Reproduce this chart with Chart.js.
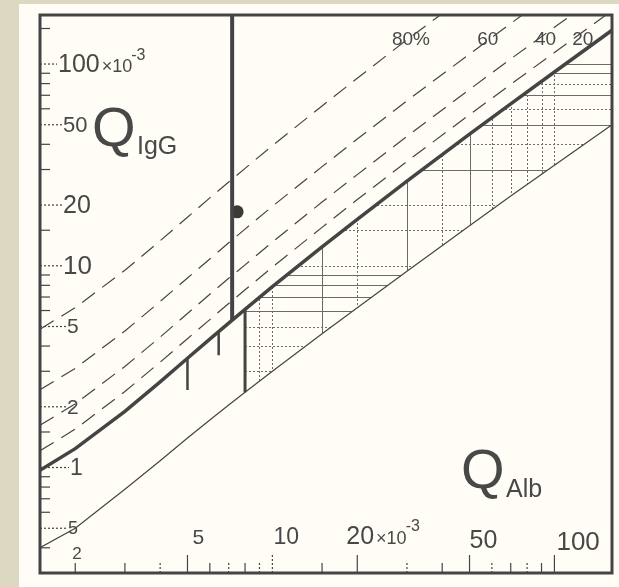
<!DOCTYPE html>
<html lang="de">
<head>
<meta charset="UTF-8">
<title>Reibergramm IgG</title>
<style>
    body { margin: 0; background: #dcd8c1; overflow: hidden; }
    canvas { display: block; }
</style>
</head>
<body>
<canvas id="reiber" width="619" height="587"></canvas>
<script src="https://cdn.jsdelivr.net/npm/chart.js"></script>
<script>
const qAlb = [1.5, 2, 3, 4, 5, 6, 7, 8, 10, 15, 20, 30, 50, 70, 100, 160];
// upper reference limit QLim(IgG) - thick line
const qLimIgG = [0.97, 1.24, 1.90, 2.66, 3.48, 4.33, 5.20, 6.08, 7.88, 12.4, 17.0, 26.3, 44.9, 63.4, 91.3, 147];
// lower limit - thin line
const qLowIgG = [0.40, 0.50, 0.78, 1.08, 1.40, 1.72, 2.04, 2.36, 3.0, 4.6, 6.2, 9.4, 15.8, 22.2, 31.5, 50];
// intrathecal fraction lines (dashed)
const if20 = [1.21, 1.55, 2.38, 3.33, 4.35, 5.41, 6.50, 7.60, 9.85, 15.5, 21.3, 32.9, 56.1, 79.3, 114, 184];
const if40 = [1.62, 2.07, 3.17, 4.43, 5.80, 7.22, 8.67, 10.1, 13.1, 20.7, 28.3, 43.8, 74.8, 106, 152, 245];
const if60 = [2.43, 3.10, 4.75, 6.65, 8.70, 10.8, 13.0, 15.2, 19.7, 31.0, 42.5, 65.8, 112, 159, 228, 368];
const if80 = [4.85, 6.20, 9.50, 13.3, 17.4, 21.7, 26.0, 30.4, 39.4, 62.0, 85.0, 132, 224, 317, 457, 735];
const ifLabels = ['80%', '60', '40', '20'];
const ifLabelQAlb = [31, 58, 93, 126];
const ifLabelQIgG = 124;

// vertical reference line (upper QAlb limit) and small age marks
const refLineQAlb = [7.2, 7.2];
const refLineQIgG = [175, 5.36];
const stubQAlb = [5, 6.45];
const stubTop = [3.48, 4.70];
const stubBottom = [2.42, 3.6];
const ageLineQAlb = [8, 8];
const ageLineQIgG = [6.08, 2.36];

// patient value
const patientQAlb = [7.5];
const patientQIgG = [18.5];

// hatch grid inside the "no intrathecal synthesis" area
const hatchQIgG = [3, 4, 5, 6, 7, 8, 9, 10, 15, 20, 30, 40, 50, 60, 70, 80, 90, 100];
const hatchQAlb = [9, 10, 15, 20, 30, 40, 50, 60, 70, 80, 90, 100];
const hatchSolidY = [6, 7, 8, 9, 30, 50, 70, 90, 100];
const hatchSolidX = [15, 30, 50];

// axes
const yTickValues = [100, 50, 20, 10, 5, 2, 1, 0.5];
const yTickLabels = ['100', '50', '20', '10', '5', '2', '1', '5'];
const yMinorTicks = [0.4, 0.6, 0.7, 0.8, 0.9, 1.5, 3, 4, 6, 7, 8, 9, 15, 30, 40, 60, 70, 80, 90, 150];
const xTickValues = [2, 5, 10, 20, 50, 100];
const xTickLabels = ['2', '5', '10', '20', '50', '100'];
const xMinorTicks = [3, 4, 6, 7, 8, 9, 15, 30, 40, 60, 70, 80, 90];

const ink = '#444444';
const textInk = '#484848';
const FONT = '"Liberation Sans", Arial, sans-serif';

function pts(xs, ys) {
    return xs.map((x, i) => ({ x: x, y: ys[i] }));
}

const stubs = [];
stubQAlb.forEach((q, i) => {
    stubs.push({ x: q, y: stubTop[i] }, { x: q, y: stubBottom[i] }, { x: q, y: null });
});

const paper = {
    id: 'paper',
    beforeDraw(chart) {
        const ctx = chart.ctx;
        ctx.save();
        ctx.fillStyle = '#dcd8c1';
        ctx.fillRect(0, 0, chart.width, chart.height);
        ctx.fillStyle = '#fffdf6';
        ctx.fillRect(19, 4, chart.width - 19, chart.height - 4);
        ctx.restore();
    }
};

const hatch = {
    id: 'hatch',
    beforeDatasetsDraw(chart) {
        const ctx = chart.ctx, xs = chart.scales.x, ys = chart.scales.y, a = chart.chartArea;
        const px = v => xs.getPixelForValue(v), py = v => ys.getPixelForValue(v);
        const up = pts(qAlb, qLimIgG).filter(p => p.x >= 8);
        const lo = pts(qAlb, qLowIgG).filter(p => p.x >= 8).reverse();
        ctx.save();
        ctx.beginPath();
        ctx.rect(a.left, a.top, a.right - a.left, a.bottom - a.top);
        ctx.clip();
        ctx.beginPath();
        up.concat(lo).forEach((p, i) => i ? ctx.lineTo(px(p.x), py(p.y)) : ctx.moveTo(px(p.x), py(p.y)));
        ctx.closePath();
        ctx.clip();
        ctx.strokeStyle = '#6b6b6b';
        ctx.lineWidth = 1;
        hatchQIgG.forEach(v => {
            ctx.setLineDash(hatchSolidY.includes(v) ? [] : [2, 2]);
            ctx.beginPath();
            ctx.moveTo(px(8), Math.round(py(v)) + 0.5);
            ctx.lineTo(a.right, Math.round(py(v)) + 0.5);
            ctx.stroke();
        });
        hatchQAlb.forEach(v => {
            ctx.setLineDash(hatchSolidX.includes(v) ? [] : [2, 2]);
            ctx.beginPath();
            ctx.moveTo(Math.round(px(v)) + 0.5, a.bottom);
            ctx.lineTo(Math.round(px(v)) + 0.5, a.top);
            ctx.stroke();
        });
        ctx.restore();
    }
};

const frame = {
    id: 'frame',
    afterDatasetsDraw(chart) {
        const ctx = chart.ctx, xs = chart.scales.x, ys = chart.scales.y, a = chart.chartArea;
        const px = v => xs.getPixelForValue(v), py = v => ys.getPixelForValue(v);
        ctx.save();
        ctx.strokeStyle = ink;
        ctx.lineWidth = 3;
        ctx.strokeRect(a.left, a.top, a.right - a.left, a.bottom - a.top);

        // left axis
        ctx.lineWidth = 1.2;
        yMinorTicks.forEach(v => {
            ctx.beginPath();
            ctx.moveTo(a.left, py(v));
            ctx.lineTo(a.left + 10, py(v));
            ctx.stroke();
        });
        const yOff = [18, 23, 23, 23, 27, 27, 30, 28];
        const ySize = [25, 22, 25, 26, 21, 21, 23, 18];
        ctx.fillStyle = textInk;
        ctx.textBaseline = 'middle';
        ctx.textAlign = 'left';
        yTickValues.forEach((v, i) => {
            const y = py(v), x = a.left + yOff[i];
            ctx.setLineDash([2, 2]);
            ctx.beginPath();
            ctx.moveTo(a.left, y);
            ctx.lineTo(x - 1, y);
            ctx.stroke();
            ctx.setLineDash([]);
            ctx.font = ySize[i] + 'px ' + FONT;
            ctx.fillText(yTickLabels[i], x, y + 1);
            if (i === 0) {
                const w = ctx.measureText(yTickLabels[i]).width;
                ctx.font = '18px ' + FONT;
                ctx.fillText('×10', x + w + 2, y + 3);
                const w2 = ctx.measureText('×10').width;
                ctx.font = '16px ' + FONT;
                ctx.fillText('-3', x + w + w2 + 1, y - 8);
            }
        });

        // bottom axis
        ctx.lineWidth = 1.2;
        xMinorTicks.forEach((v, i) => {
            ctx.setLineDash(i % 2 ? [2, 2] : []);
            ctx.beginPath();
            ctx.moveTo(px(v), a.bottom);
            ctx.lineTo(px(v), a.bottom - 10);
            ctx.stroke();
        });
        const xOff = [-3, 5, 1, -11, 0, 2];
        const xSize = [17, 21, 23, 25, 25, 26];
        const xMid = [554, 538, 538, 537, 541, 543];
        xTickValues.forEach((v, i) => {
            const x = px(v);
            ctx.setLineDash(i === 2 ? [2, 2] : []);
            ctx.beginPath();
            ctx.moveTo(x, a.bottom);
            ctx.lineTo(x, a.bottom - (i === 0 ? 10 : 18));
            ctx.stroke();
            ctx.setLineDash([]);
            ctx.font = xSize[i] + 'px ' + FONT;
            ctx.fillText(xTickLabels[i], x + xOff[i], xMid[i]);
            if (i === 3) {
                const w = ctx.measureText(xTickLabels[i]).width;
                ctx.font = '18px ' + FONT;
                ctx.fillText('×10', x + xOff[i] + w + 2, xMid[i] + 2);
                const w2 = ctx.measureText('×10').width;
                ctx.font = '16px ' + FONT;
                ctx.fillText('-3', x + xOff[i] + w + w2 + 1, xMid[i] - 10);
            }
        });

        // percentage labels of the dashed lines
        ctx.textBaseline = 'alphabetic';
        ctx.textAlign = 'center';
        ctx.font = '19px ' + FONT;
        ifLabels.forEach((t, i) => ctx.fillText(t, px(ifLabelQAlb[i]), py(ifLabelQIgG)));

        // axis titles
        ctx.textAlign = 'left';
        ctx.font = '56px ' + FONT;
        ctx.fillText('Q', 92, 146);
        ctx.fillText('Q', 461, 488);
        ctx.font = '25px ' + FONT;
        ctx.fillText('IgG', 137, 154);
        ctx.fillText('Alb', 506, 497);
        ctx.restore();
    }
};

const line = (data, width, dash) => ({
    data: data,
    showLine: true,
    borderColor: ink,
    borderWidth: width,
    borderDash: dash || [],
    pointRadius: 0,
    tension: 0,
    spanGaps: false
});

new Chart(document.getElementById('reiber'), {
    type: 'scatter',
    data: {
        datasets: [
            line(pts(qAlb, qLimIgG), 3.5),
            line(pts(qAlb, qLowIgG), 1.2),
            line(pts(qAlb, if20), 1.2, [16, 9]),
            line(pts(qAlb, if40), 1.2, [16, 9]),
            line(pts(qAlb, if60), 1.2, [16, 9]),
            line(pts(qAlb, if80), 1.2, [16, 9]),
            line(pts(refLineQAlb, refLineQIgG), 4),
            line(pts(ageLineQAlb, ageLineQIgG), 3),
            line(stubs, 2.5),
            {
                data: pts(patientQAlb, patientQIgG),
                pointRadius: 6.5,
                backgroundColor: '#3a3a3a',
                borderWidth: 0
            }
        ]
    },
    options: {
        responsive: false,
        animation: false,
        layout: { padding: { left: 40, top: 15, right: 7, bottom: 14 } },
        plugins: { legend: { display: false }, tooltip: { enabled: false } },
        scales: {
            x: { type: 'logarithmic', min: 1.5, max: 160, display: false },
            y: { type: 'logarithmic', min: 0.3, max: 175, display: false }
        }
    },
    plugins: [paper, hatch, frame]
});
</script>
</body>
</html>
